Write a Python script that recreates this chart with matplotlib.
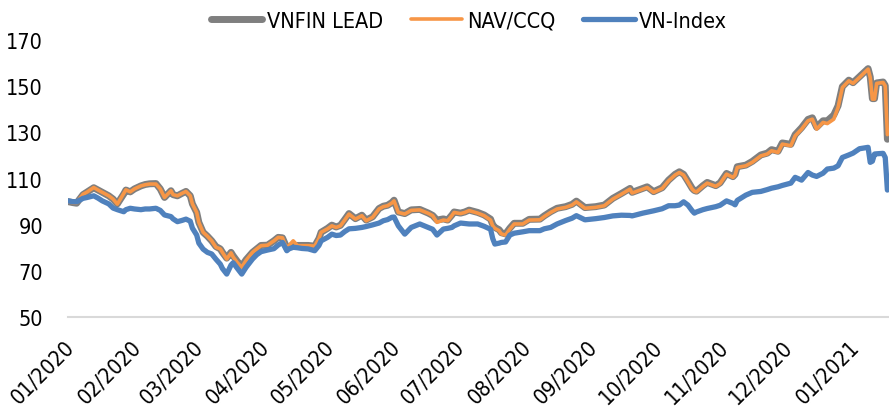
import matplotlib
matplotlib.use('Agg')
import matplotlib.pyplot as plt
import matplotlib.transforms as mtransforms
from matplotlib import font_manager as fm
import pandas as pd

# pick a narrow font if available, otherwise an Arial-metric font
_avail = {(f.name, f.stretch) for f in fm.fontManager.ttflist}
_names = {n for n, s in _avail}
FONT_STRETCH = 'normal'
if 'Liberation Sans Narrow' in _names:
    FONT_FAMILY, FONT_SIZE = 'Liberation Sans Narrow', 17.0
elif any(n == 'DejaVu Sans' and s in ('condensed', 'semi-condensed', 600) for n, s in _avail):
    FONT_FAMILY, FONT_SIZE, FONT_STRETCH = 'DejaVu Sans', 15.5, 'condensed'
else:
    FONT_FAMILY, FONT_SIZE = 'Liberation Sans', 14.5
plt.rcParams['font.family'] = [FONT_FAMILY, 'DejaVu Sans']
plt.rcParams['font.stretch'] = FONT_STRETCH

dates = [
    '2020-01-01', '2020-01-03', '2020-01-05', '2020-01-08', '2020-01-10', '2020-01-13', '2020-01-15',
    '2020-01-17', '2020-01-20', '2020-01-22', '2020-01-24', '2020-01-27', '2020-01-28', '2020-01-30',
    '2020-02-01', '2020-02-04', '2020-02-06', '2020-02-08', '2020-02-11', '2020-02-13', '2020-02-15',
    '2020-02-18', '2020-02-19', '2020-02-21', '2020-02-23', '2020-02-25', '2020-02-27', '2020-02-28',
    '2020-03-01', '2020-03-02', '2020-03-04', '2020-03-06', '2020-03-08', '2020-03-10', '2020-03-12',
    '2020-03-13', '2020-03-15', '2020-03-17', '2020-03-18', '2020-03-20', '2020-03-22', '2020-03-24',
    '2020-03-27', '2020-03-29', '2020-03-31', '2020-04-03', '2020-04-06', '2020-04-08', '2020-04-10',
    '2020-04-12', '2020-04-13', '2020-04-15', '2020-04-17', '2020-04-19', '2020-04-22', '2020-04-25',
    '2020-04-27', '2020-04-28', '2020-05-01', '2020-05-03', '2020-05-05', '2020-05-07', '2020-05-09',
    '2020-05-11', '2020-05-14', '2020-05-17', '2020-05-19', '2020-05-22', '2020-05-25', '2020-05-27',
    '2020-05-29', '2020-05-31', '2020-06-01', '2020-06-03', '2020-06-06', '2020-06-09', '2020-06-13',
    '2020-06-17', '2020-06-19', '2020-06-21', '2020-06-24', '2020-06-26', '2020-06-28', '2020-06-29',
    '2020-07-02', '2020-07-04', '2020-07-06', '2020-07-10', '2020-07-13', '2020-07-16', '2020-07-17',
    '2020-07-18', '2020-07-20', '2020-07-21', '2020-07-23', '2020-07-25', '2020-07-27', '2020-07-31',
    '2020-08-03', '2020-08-08', '2020-08-10', '2020-08-13', '2020-08-16', '2020-08-20', '2020-08-23',
    '2020-08-25', '2020-08-29', '2020-09-03', '2020-09-07', '2020-09-11', '2020-09-15', '2020-09-19',
    '2020-09-20', '2020-09-25', '2020-09-27', '2020-09-30', '2020-10-04', '2020-10-07', '2020-10-10',
    '2020-10-12', '2020-10-14', '2020-10-16', '2020-10-18', '2020-10-19', '2020-10-20', '2020-10-23',
    '2020-10-25', '2020-10-29', '2020-10-31', '2020-11-03', '2020-11-06', '2020-11-07', '2020-11-08',
    '2020-11-12', '2020-11-15', '2020-11-19', '2020-11-22', '2020-11-24', '2020-11-27', '2020-11-29',
    '2020-12-03', '2020-12-05', '2020-12-08', '2020-12-11', '2020-12-13', '2020-12-15', '2020-12-18',
    '2020-12-20', '2020-12-23', '2020-12-25', '2020-12-27', '2020-12-30', '2021-01-01', '2021-01-04',
    '2021-01-08', '2021-01-09', '2021-01-10', '2021-01-11', '2021-01-12', '2021-01-15', '2021-01-16',
    '2021-01-17',
]

vnfin_lead = [
    100.0, 99.6, 99.3, 103.0, 104.2, 106.0, 105.0,
    104.0, 102.5, 101.1, 99.0, 103.3, 105.0, 104.2,
    105.5, 106.8, 107.4, 107.7, 107.8, 105.5, 101.8,
    104.7, 103.0, 102.5, 103.5, 104.4, 102.5, 99.0,
    95.3, 91.0, 86.7, 85.0, 83.0, 80.5, 79.5,
    78.0, 75.5, 78.0, 76.5, 74.0, 72.0, 74.8,
    78.0, 79.5, 81.0, 81.1, 83.0, 84.5, 84.3,
    80.0, 80.5, 81.0, 81.0, 81.0, 81.0, 80.7,
    84.0, 86.7, 88.4, 89.8, 89.0, 89.7, 92.2,
    94.8, 92.6, 94.1, 92.0, 93.4, 97.0, 98.0,
    98.4, 99.6, 100.6, 95.5, 94.8, 96.4, 96.6,
    95.0, 94.0, 92.0, 92.5, 92.0, 94.2, 95.5,
    95.0, 95.5, 96.3, 95.3, 94.2, 92.4, 90.0,
    88.8, 87.8, 86.5, 86.0, 88.5, 90.6, 90.6,
    92.3, 92.4, 93.8, 95.6, 97.1, 97.8, 98.8,
    100.2, 97.4, 97.8, 98.5, 101.4, 103.5, 105.7,
    104.0, 105.7, 106.4, 104.3, 106.0, 109.3, 111.8,
    112.9, 111.8, 108.8, 105.7, 104.8, 104.5, 106.9,
    108.3, 106.9, 108.1, 112.2, 110.8, 111.8, 115.1,
    115.8, 117.4, 120.2, 121.0, 122.5, 121.8, 125.4,
    124.8, 129.0, 132.0, 135.6, 136.3, 132.2, 135.0,
    135.0, 137.5, 141.5, 149.8, 152.6, 151.5, 154.1,
    157.6, 154.0, 144.6, 144.6, 151.4, 151.8, 150.3,
    127.0,
]

nav_ccq = [
    100.0, 99.6, 99.5, 103.2, 104.2, 106.1, 105.0,
    104.0, 102.5, 101.1, 98.9, 103.5, 105.1, 104.2,
    105.5, 106.8, 107.3, 107.6, 107.6, 105.5, 101.8,
    104.7, 103.0, 102.5, 103.5, 104.4, 102.5, 99.0,
    95.3, 91.0, 86.7, 85.0, 83.0, 80.2, 79.5,
    78.0, 75.1, 77.8, 76.0, 73.5, 71.5, 74.5,
    78.0, 79.5, 80.9, 81.1, 83.0, 84.5, 84.3,
    79.4, 81.0, 83.0, 80.9, 80.9, 80.9, 80.7,
    84.0, 86.7, 88.2, 89.5, 88.8, 89.5, 92.0,
    94.6, 92.4, 93.9, 91.7, 93.2, 96.8, 97.8,
    98.2, 99.4, 100.3, 95.3, 94.6, 96.2, 96.4,
    94.9, 93.9, 91.0, 92.0, 91.7, 94.0, 95.3,
    94.8, 95.3, 96.1, 95.0, 93.9, 92.0, 89.5,
    88.4, 87.4, 86.0, 85.5, 88.1, 90.3, 90.3,
    92.0, 92.1, 93.5, 95.3, 96.8, 97.5, 98.5,
    99.9, 97.1, 97.5, 98.2, 101.1, 103.2, 105.4,
    103.7, 105.4, 106.1, 104.0, 105.7, 109.0, 111.5,
    112.6, 111.5, 108.5, 105.4, 104.5, 104.2, 106.6,
    108.0, 106.6, 107.8, 111.9, 110.5, 111.5, 114.8,
    115.5, 117.0, 119.8, 120.6, 122.0, 121.3, 124.9,
    124.2, 128.5, 131.4, 135.0, 135.7, 131.4, 134.3,
    133.8, 135.7, 140.8, 149.4, 152.3, 151.2, 153.8,
    157.4, 153.8, 144.4, 144.4, 151.2, 151.6, 150.1,
    129.0,
]

vn_index = [
    100.3, 100.0, 99.9, 101.4, 101.8, 102.5, 101.5,
    100.3, 99.0, 97.2, 96.5, 95.6, 96.5, 97.1,
    96.8, 96.5, 96.8, 96.8, 97.1, 96.2, 94.2,
    93.5, 92.5, 91.3, 91.8, 92.4, 91.5, 88.5,
    85.5, 82.0, 79.4, 78.0, 77.3, 75.0, 72.9,
    71.0, 68.6, 72.5, 73.5, 71.0, 68.6, 71.5,
    75.1, 77.0, 78.3, 79.0, 79.6, 81.2, 82.3,
    78.7, 79.5, 80.2, 80.0, 79.7, 79.5, 78.7,
    81.0, 83.0, 84.5, 85.9, 85.3, 85.5, 87.0,
    88.2, 88.4, 88.8, 89.2, 89.9, 90.7, 91.7,
    92.2, 93.2, 93.3, 89.5, 85.9, 88.8, 90.3,
    88.8, 88.0, 85.5, 88.1, 88.4, 88.8, 89.5,
    90.7, 90.5, 90.3, 90.3, 89.3, 88.0, 84.0,
    81.6, 82.0, 82.3, 82.5, 85.5, 86.3, 86.9,
    87.4, 87.4, 88.2, 88.8, 90.3, 91.8, 92.8,
    93.9, 92.1, 92.6, 93.1, 93.8, 94.1, 94.0,
    93.8, 95.0, 95.4, 96.0, 96.9, 98.2, 98.2,
    98.5, 99.9, 98.5, 96.0, 95.0, 95.5, 96.5,
    97.0, 97.8, 98.4, 100.3, 99.2, 98.6, 100.5,
    102.8, 104.0, 104.4, 105.2, 105.8, 106.4, 107.0,
    108.0, 110.5, 109.3, 112.6, 111.5, 110.9, 112.3,
    114.1, 114.5, 115.5, 119.1, 120.2, 121.0, 122.9,
    123.5, 117.0, 117.5, 120.6, 120.7, 120.9, 119.1,
    105.0,
]

series_names = ['VNFIN LEAD', 'NAV/CCQ', 'VN-Index']
y_ticks = [50, 70, 90, 110, 130, 150, 170]
x_tick_months = ['2020-01-01', '2020-02-01', '2020-03-01', '2020-04-01', '2020-05-01',
                 '2020-06-01', '2020-07-01', '2020-08-01', '2020-09-01', '2020-10-01',
                 '2020-11-01', '2020-12-01', '2021-01-01']
x_tick_labels = ['01/2020', '02/2020', '03/2020', '04/2020', '05/2020', '06/2020', '07/2020',
                 '08/2020', '09/2020', '10/2020', '11/2020', '12/2020', '01/2021']

GRAY = '#7f7f7f'
ORANGE = '#f79646'
BLUE = '#4f81bd'

x = pd.to_datetime(dates)

fig = plt.figure(figsize=(8.89, 4.10), dpi=100)
ax = fig.add_axes([68 / 889, 92 / 410, 821 / 889, 277 / 410])

l1, = ax.plot(x, vnfin_lead, color=GRAY, lw=5.0, solid_capstyle='round', solid_joinstyle='round',
              label=series_names[0], zorder=2)
l2, = ax.plot(x, nav_ccq, color=ORANGE, lw=2.6, solid_capstyle='round', solid_joinstyle='round',
              label=series_names[1], zorder=3)
l3, = ax.plot(x, vn_index, color=BLUE, lw=3.8, solid_capstyle='round', solid_joinstyle='round',
              label=series_names[2], zorder=4)

ax.set_ylim(50, 170)
ax.set_yticks(y_ticks)
ax.set_yticklabels([str(v) for v in y_ticks])
ax.set_xlim(pd.Timestamp('2020-01-01'), pd.Timestamp('2021-01-17 18:00'))
ax.set_xticks(pd.to_datetime(x_tick_months))

for s in ['top', 'right', 'left']:
    ax.spines[s].set_visible(False)
ax.spines['bottom'].set_color('#d9d9d9')
ax.spines['bottom'].set_linewidth(1.5)
ax.tick_params(axis='both', length=0, labelsize=FONT_SIZE, colors='black')
ax.tick_params(axis='y', pad=18)
ax.tick_params(axis='x', pad=14)

ax.set_xticklabels(x_tick_labels, rotation=45, ha='right', va='top', rotation_mode='anchor')
shift = mtransforms.ScaledTranslation(-4 / 100, 0, fig.dpi_scale_trans)
for lbl in ax.get_xticklabels():
    lbl.set_transform(lbl.get_transform() + shift)

fig.legend(handles=[l1, l2, l3], loc='center', bbox_to_anchor=(469 / 889, 1 - 22 / 410),
           ncol=3, frameon=False, fontsize=FONT_SIZE, handlelength=2.4, handletextpad=0.2,
           columnspacing=1.3, borderaxespad=0)

fig.savefig('out.png', dpi=100)
